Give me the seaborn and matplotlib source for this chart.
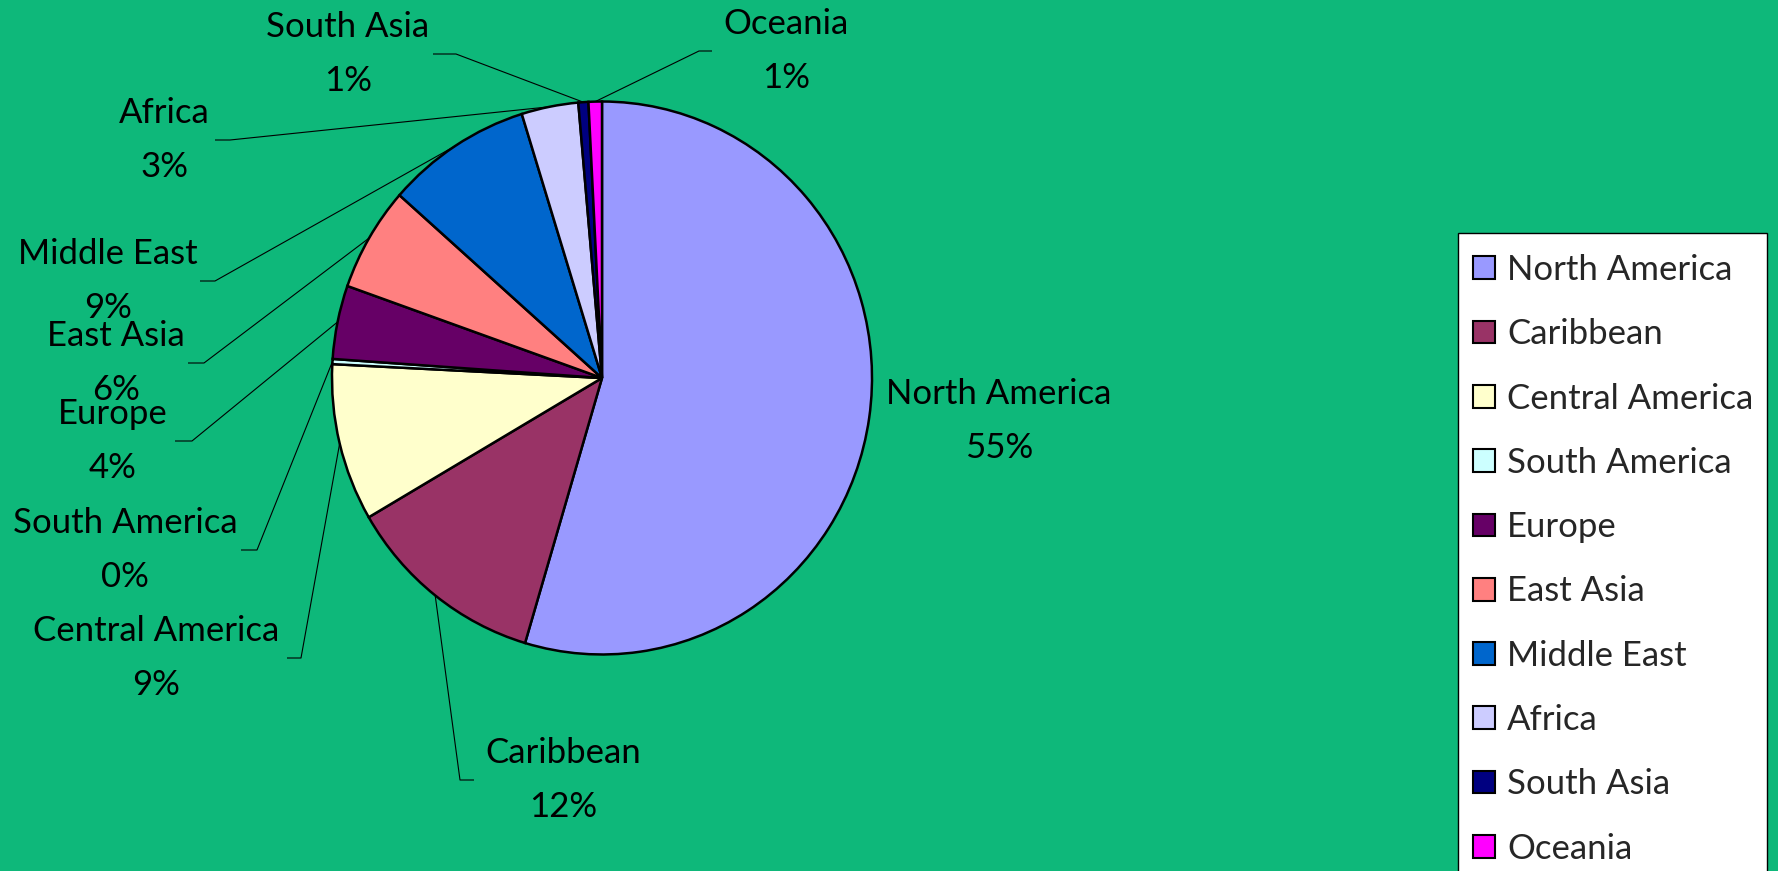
import numpy as np
import matplotlib
matplotlib.use("Agg")
import matplotlib.pyplot as plt
from matplotlib.patches import Patch, Rectangle
import seaborn as sns

# Share of visitors by region of origin
regions = ["North America", "Caribbean", "Central America", "South America",
           "Europe", "East Asia", "Middle East", "Africa", "South Asia", "Oceania"]
shares = [54.6, 12.0, 9.2, 0.3, 4.3, 6.1, 8.7, 3.4, 0.6, 0.8]
region_colors = ["#9999FF", "#993366", "#FFFFCC", "#CCFFFF", "#660066",
                 "#FF8080", "#0066CC", "#CCCCFF", "#000080", "#FF00FF"]

BG = "#0EB87A"
W, H = 1778, 871
STRETCH = 1.024          # pie is drawn slightly taller than wide
FS = 25

sns.set_theme(style="white")
plt.rcParams["font.family"] = ["Lato", "DejaVu Sans"]

fig = plt.figure(figsize=(W / 100, H / 100), dpi=100, facecolor=BG)
ax = fig.add_axes([0, 0, 1, 1])
ax.set_facecolor(BG)


def px(x, y):
    """Pixel position measured from the top-left corner -> data coords."""
    return x, (H - y) / STRETCH


palette = sns.color_palette(region_colors)
cx, cy = px(602, 378)
radius = 270
wedges, _ = ax.pie(shares, colors=palette, startangle=90, counterclock=False,
                   center=(cx, cy), radius=radius,
                   wedgeprops=dict(edgecolor="black", linewidth=1.8))
ax.set_xlim(0, W)
ax.set_ylim(0, H / STRETCH)
ax.set_aspect(STRETCH)
ax.axis("off")

total = sum(shares)

# text centre (px from top-left), and leader: (elbow x, end x) or None
label_layout = {
    "North America": ((999, 421), None),
    "Caribbean": ((563, 780), (460, 474)),
    "Central America": ((156, 658), (301, 287)),
    "South America": ((125, 550), (257, 241)),
    "Europe": ((113, 441), (192, 175)),
    "East Asia": ((116, 363), (204, 188)),
    "Middle East": ((108, 281), (215, 200)),
    "Africa": ((164, 140), (230, 215)),
    "South Asia": ((348, 54), (456, 433)),
    "Oceania": ((786, 51), (699, 712)),
}

for name, value, w in zip(regions, shares, wedges):
    (tx, ty), leader = label_layout[name]
    pct = value / total * 100
    x, y = px(tx, ty)
    ax.text(x, y, f"{name}\n{pct:.0f}%", ha="center", va="center",
            fontsize=FS, color="black", linespacing=1.82)
    if leader is not None:
        mid = np.deg2rad((w.theta1 + w.theta2) / 2)
        ex = cx + radius * np.cos(mid)
        ey = cy + radius * np.sin(mid)
        elbow_x, end_x = leader
        ax.plot([ex, elbow_x, end_x], [ey, y, y], color="black",
                linewidth=0.8, solid_capstyle="butt")

# legend box runs off the bottom edge of the figure
fig.add_artist(Rectangle((1458 / W, -0.05), (1767 - 1458) / W, 1.05 - 233 / H,
                         transform=fig.transFigure, facecolor="white",
                         edgecolor="black", linewidth=1.0, zorder=3))

handles = [Patch(facecolor=c, edgecolor="black", linewidth=1.5) for c in palette]
leg = fig.legend(handles, regions, loc="upper left",
                 bbox_to_anchor=(1473 / W, 1 - 254 / H),
                 fontsize=FS, frameon=False, borderpad=0,
                 handlelength=0.63, handleheight=0.63, handletextpad=0.35,
                 labelspacing=0.93, borderaxespad=0)
leg.set_zorder(4)

fig.savefig("out.png", dpi=100, facecolor=BG)
